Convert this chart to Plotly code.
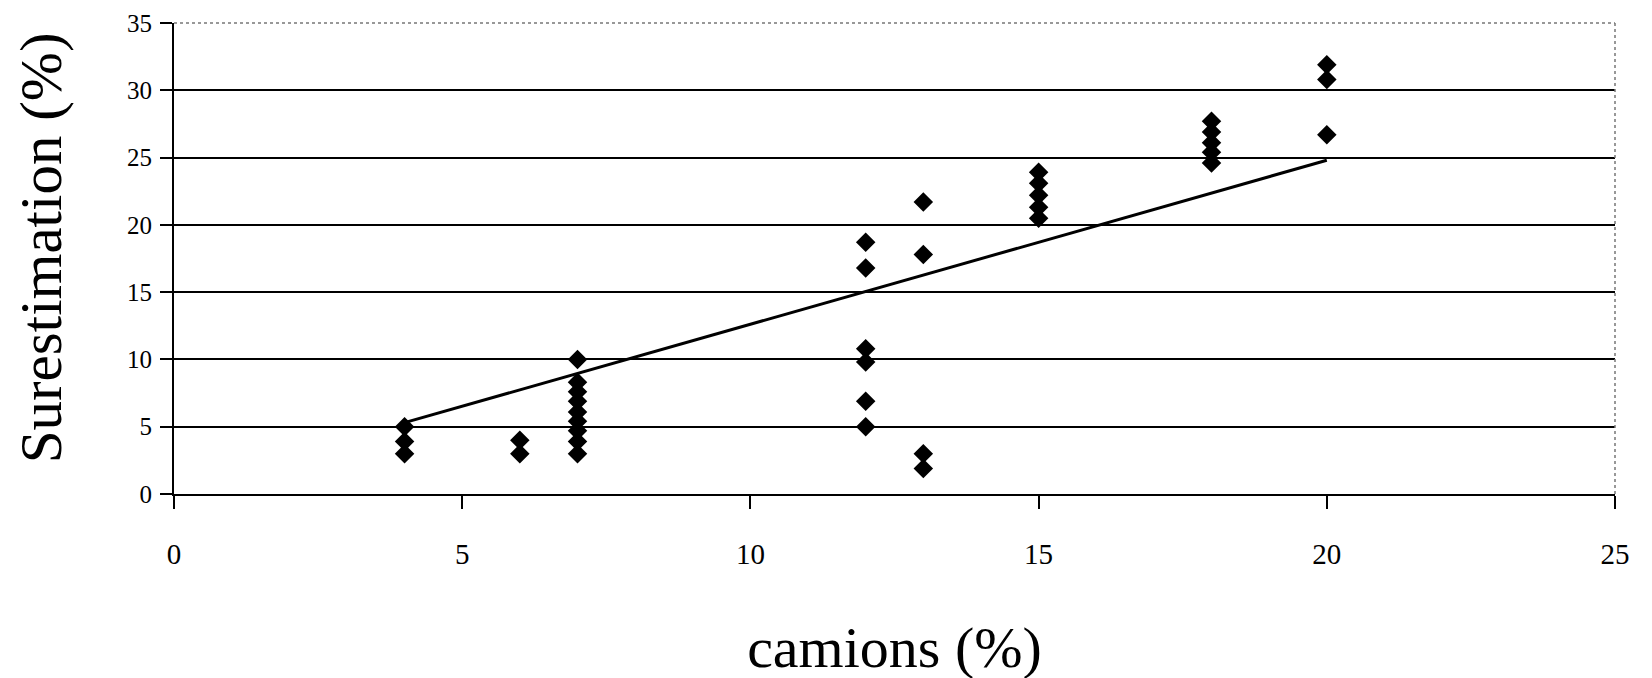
import plotly.graph_objects as go

# Data
camions = [4, 4, 4,
           6, 6,
           7, 7, 7, 7, 7, 7, 7, 7, 7,
           12, 12, 12, 12, 12, 12,
           13, 13, 13, 13,
           15, 15, 15, 15, 15,
           18, 18, 18, 18, 18,
           20, 20, 20]
surestimation = [5.0, 3.9, 3.0,
                 4.0, 3.0,
                 10.0, 8.3, 7.6, 6.9, 6.1, 5.4, 4.7, 3.9, 3.0,
                 18.7, 16.8, 10.8, 9.8, 6.9, 5.0,
                 21.7, 17.8, 3.0, 1.9,
                 23.9, 23.1, 22.2, 21.3, 20.5,
                 27.7, 26.9, 26.1, 25.4, 24.6,
                 31.9, 30.8, 26.7]
trend_x = [4, 20]
trend_y = [5.3, 24.8]
x_ticks = [0, 5, 10, 15, 20, 25]
y_ticks = [0, 5, 10, 15, 20, 25, 30, 35]

FONT = "Liberation Serif"

fig = go.Figure()
fig.add_trace(go.Scatter(x=trend_x, y=trend_y, mode="lines",
                         line=dict(color="black", width=3), showlegend=False))
fig.add_trace(go.Scatter(x=camions, y=surestimation, mode="markers",
                         marker=dict(symbol="diamond", size=15, color="black"),
                         showlegend=False))

fig.update_layout(
    width=1652, height=678,
    margin=dict(l=166, r=45, t=15, b=192, autoexpand=False),
    paper_bgcolor="white", plot_bgcolor="white",
    font=dict(family=FONT, color="black"),
    xaxis=dict(range=[0, 25], tickvals=x_ticks, ticks="outside", ticklen=13,
               tickwidth=2, tickcolor="black", showline=True, linecolor="black",
               linewidth=2, showgrid=False, zeroline=False, automargin=False,
               ticklabeloverflow="allow",
               tickfont=dict(family=FONT, size=29, color="black"),
               ticklabelstandoff=20,
               title=dict(text="camions (%)", standoff=58,
                          font=dict(family=FONT, size=58, color="black"))),
    yaxis=dict(range=[0, 35], tickvals=y_ticks, ticks="outside", ticklen=12,
               tickwidth=2, tickcolor="black", showline=True, linecolor="black",
               linewidth=2, showgrid=True, gridcolor="black", gridwidth=2,
               zeroline=False, automargin=False,
               ticklabeloverflow="allow",
               tickfont=dict(family=FONT, size=25, color="black"),
               ticklabelstandoff=3),
    annotations=[
        dict(text="Surestimation (%)", textangle=-90, showarrow=False,
             xref="paper", yref="paper", x=-0.0925, y=0.523,
             xanchor="center", yanchor="middle",
             font=dict(family=FONT, size=59, color="black")),
    ],
    shapes=[
        dict(type="line", xref="paper", yref="paper", x0=0.002, x1=1, y0=1, y1=1,
             line=dict(color="white", width=4), layer="above"),
        dict(type="line", xref="paper", yref="paper", x0=0, x1=1, y0=1, y1=1,
             line=dict(color="#777777", width=1.5, dash="dot"), layer="above"),
        dict(type="line", xref="paper", yref="paper", x0=1, x1=1, y0=0, y1=1,
             line=dict(color="#777777", width=1.5, dash="dot"), layer="above"),
    ],
)

fig.write_html("out.html")
